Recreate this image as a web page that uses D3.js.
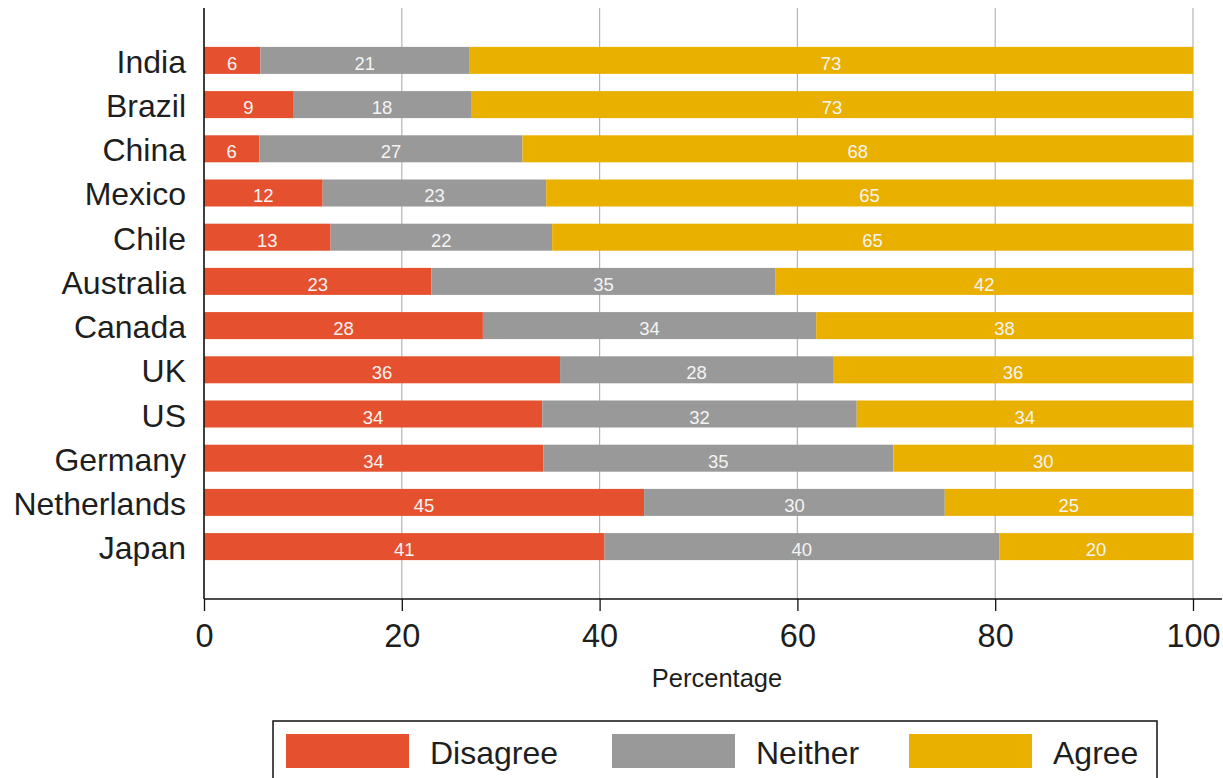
<!DOCTYPE html>
<html>
<head>
<meta charset="utf-8">
<script src="https://cdn.jsdelivr.net/npm/d3@7"></script>
<style>
  html, body { margin: 0; padding: 0; background: #fff; }
  svg { display: block; font-family: "Liberation Sans", Arial, sans-serif; }
</style>
</head>
<body>
<svg id="chart" width="1223" height="778"></svg>
<script>
// ---- data ----
const countries = ["India","Brazil","China","Mexico","Chile","Australia","Canada","UK","US","Germany","Netherlands","Japan"];
const disagree = [5.7, 9.0, 5.6, 12.0, 12.8, 23.0, 28.2, 36.0, 34.2, 34.3, 44.5, 40.5];
const neither  = [21.1, 18.0, 26.6, 22.6, 22.4, 34.8, 33.7, 27.6, 31.8, 35.4, 30.4, 39.9];
const agree    = [73.2, 73.0, 67.8, 65.4, 64.8, 42.2, 38.1, 36.4, 34.0, 30.3, 25.1, 19.6];
const seriesNames = ["Disagree", "Neither", "Agree"];
const xTicks = [0, 20, 40, 60, 80, 100];
const xTitle = "Percentage";

const colors = ["#E5502F", "#999999", "#EAB000"];

const svg = d3.select("#chart");
const mLeft = 204, mRight100 = 1193, mPlotRight = 1222, mTop = 8, mBottom = 599;

const x = d3.scaleLinear().domain([0, 100]).range([mLeft, mRight100]);
const y = d3.scaleBand().domain(countries).range([mTop, mBottom]).paddingInner(0.389).paddingOuter(0.88);

const rows = countries.map((c, i) => ({country: c, Disagree: disagree[i], Neither: neither[i], Agree: agree[i]}));
const stacked = d3.stack().keys(seriesNames)(rows);

// gridlines
svg.append("g").selectAll("line").data(xTicks.filter(t => t > 0)).join("line")
  .attr("x1", d => x(d)).attr("x2", d => x(d))
  .attr("y1", mTop).attr("y2", mBottom)
  .attr("stroke", "#b4b4b4").attr("stroke-width", 1.2);

// bars
const layers = svg.append("g").selectAll("g").data(stacked).join("g")
  .attr("fill", (d, i) => colors[i]);
layers.selectAll("rect").data(d => d).join("rect")
  .attr("x", d => x(d[0]))
  .attr("width", d => x(d[1]) - x(d[0]))
  .attr("y", d => y(d.data.country))
  .attr("height", y.bandwidth());

// bar labels
const labels = svg.append("g").attr("font-size", 18.5).attr("fill", "#f4f4f4").attr("text-anchor", "middle");
stacked.forEach(layer => {
  labels.selectAll(null).data(layer).join("text")
    .attr("x", d => (x(d[0]) + x(d[1])) / 2)
    .attr("y", d => y(d.data.country) + y.bandwidth() / 2 + 9.5)
    .text(d => Math.round(d[1] - d[0] + 1e-9).toString());
});

// y axis (labels)
svg.append("g").attr("font-size", 32).attr("fill", "#1e1e1e").attr("text-anchor", "end")
  .selectAll("text").data(countries).join("text")
  .attr("x", 186)
  .attr("y", d => y(d) + y.bandwidth() / 2 + 12.5)
  .text(d => d);

svg.append("line").attr("x1", mLeft).attr("x2", mLeft).attr("y1", mTop).attr("y2", mBottom)
  .attr("stroke", "#111").attr("stroke-width", 1.6);

// x axis
const xAxis = d3.axisBottom(x).tickValues(xTicks).tickSize(12).tickPadding(12).tickFormat(d3.format("d"));
const gx = svg.append("g").attr("transform", `translate(0,${mBottom})`).call(xAxis);
gx.select(".domain").remove();
gx.selectAll(".tick line").attr("stroke", "#111").attr("stroke-width", 1.3);
gx.selectAll(".tick text").attr("font-size", 32.5).attr("fill", "#1e1e1e")
  .attr("font-family", "Liberation Sans, Arial, sans-serif").attr("dy", "0.74em");
svg.append("line").attr("x1", mLeft).attr("x2", mPlotRight).attr("y1", mBottom).attr("y2", mBottom)
  .attr("stroke", "#111").attr("stroke-width", 1.6);

svg.append("text").attr("x", 717).attr("y", 687)
  .attr("text-anchor", "middle").attr("font-size", 25.5).attr("fill", "#1e1e1e").text(xTitle);

// legend
const lg = svg.append("g");
lg.append("rect").attr("x", 273).attr("y", 721).attr("width", 884).attr("height", 70)
  .attr("fill", "#fff").attr("stroke", "#111").attr("stroke-width", 1.5);
const legX = [286, 612, 909];
seriesNames.forEach((s, i) => {
  lg.append("rect").attr("x", legX[i]).attr("y", 734).attr("width", 123).attr("height", 34).attr("fill", colors[i]);
  lg.append("text").attr("x", legX[i] + 144).attr("y", 764).attr("font-size", 32).attr("fill", "#1e1e1e").text(s);
});
</script>
</body>
</html>
